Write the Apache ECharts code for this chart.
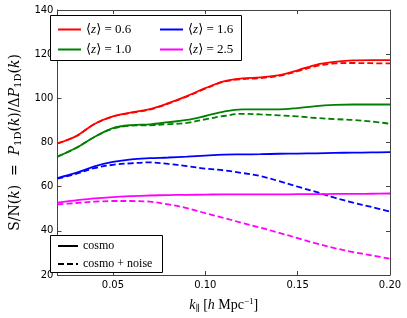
<!DOCTYPE html>
<html>
<head>
<meta charset="utf-8">
<script src="https://cdn.jsdelivr.net/npm/echarts@6/dist/echarts.min.js"></script>
<style>html,body{margin:0;padding:0;background:#fff}#c{width:407px;height:318px}</style>
</head>
<body>
<div id="c"></div>
<script>
// ---- data ----
var kValues = [0.02,0.03,0.04,0.05,0.06,0.07,0.08,0.09,0.10,0.11,0.12,0.13,0.14,0.15,0.16,0.17,0.18,0.19,0.20];
var z06Cosmo = [79.6,82.8,88.4,91.8,93.6,95.1,97.8,101.0,104.6,107.7,109.0,109.5,110.5,112.7,115.2,116.5,117.2,117.3,117.3];
var z06Noise = [79.6,82.8,88.4,91.8,93.4,94.9,97.6,100.8,104.4,107.5,108.7,109.2,110.2,112.3,114.6,115.8,116.0,115.9,115.8];
var z10Cosmo = [73.6,77.5,82.5,86.5,87.9,88.2,89.2,90.2,92.0,94.0,95.0,95.0,95.0,95.6,96.5,97.0,97.2,97.2,97.2];
var z10Noise = [73.6,77.5,82.5,86.3,87.6,87.8,88.3,88.9,90.5,92.0,93.0,92.7,92.3,91.8,91.1,90.6,90.2,89.5,88.5];
var z16Cosmo = [63.9,66.2,69.2,71.2,72.4,72.9,73.2,73.6,74.1,74.5,74.6,74.7,74.9,75.0,75.1,75.3,75.4,75.5,75.6];
var z16Noise = [63.6,65.8,68.4,69.9,70.6,71.0,70.3,69.3,68.2,67.4,66.2,64.8,62.5,60.0,57.6,55.0,52.8,50.8,48.7];
var z25Cosmo = [52.8,53.8,54.7,55.3,55.7,56.0,56.2,56.3,56.4,56.5,56.5,56.5,56.5,56.6,56.6,56.7,56.7,56.8,56.9];
var z25Noise = [52.0,52.6,53.2,53.5,53.5,53.2,52.0,50.3,48.0,45.8,43.6,41.4,39.1,36.7,34.3,32.2,30.4,28.9,27.4];
var zLabels = ['0.6','1.0','1.6','2.5'];
var xTicks = [0.05,0.10,0.15,0.20];
var yMin = 20, yMax = 140, yStep = 20;
var xMin = 0.02, xMax = 0.20;

var colors = ['#ff0000','#008000','#0000ff','#ff00ff'];
var cosmoSets = [z06Cosmo,z10Cosmo,z16Cosmo,z25Cosmo];
var noiseSets = [z06Noise,z10Noise,z16Noise,z25Noise];

function pairs(ys){ return kValues.map(function(k,i){return [k,ys[i]];}); }
function zName(z){ return '\u27E8z\u27E9 = ' + z; }

var serif = '"Liberation Serif", "DejaVu Serif", serif';
var dserif = '"DejaVu Serif", serif';
var sans = '"DejaVu Sans", sans-serif';
var series = [];
for (var i=0;i<4;i++){
  series.push({type:'line', name:zName(zLabels[i]), data:pairs(cosmoSets[i]), smooth:0.35, showSymbol:false, symbol:'none',
    color:colors[i], lineStyle:{width:1.8, color:colors[i], type:'solid'}, z:3});
  series.push({type:'line', name:'noise '+zLabels[i], data:pairs(noiseSets[i]), smooth:0.35, showSymbol:false, symbol:'none',
    color:colors[i], lineStyle:{width:1.8, color:colors[i], type:[6,3]}, z:2});
}
series.push({type:'line', name:'cosmo', data:[], symbol:'none', color:'#000', lineStyle:{width:1.8,color:'#000',type:'solid'}});
series.push({type:'line', name:'cosmo + noise', data:[], symbol:'none', color:'#000', lineStyle:{width:1.8,color:'#000',type:[6,3]}});

var zRich = {r:{fontFamily:serif,fontSize:13,color:'#000'}, i:{fontFamily:serif,fontSize:13,fontStyle:'italic',color:'#000'}};
function zFmt(name){ var parts = name.split('z'); return '{r|'+parts[0]+'}{i|z}{r|'+parts[1]+'}'; }

var legendCommon = {orient:'vertical', itemWidth:23, itemHeight:10, itemGap:7, itemStyle:{opacity:0},
  textStyle:{rich:zRich, fontFamily:serif, fontSize:13, color:'#000'}, formatter:zFmt, selectedMode:false, padding:0};

var option = {
  animation:false,
  backgroundColor:'#fff',
  grid:{left:45, right:17, top:10, bottom:40},
  xAxis:[{
    type:'value', min:xMin, max:xMax, position:'bottom',
    name:'{i|k}{sub|\u2225}{r| [}{i|h}{r| Mpc}{sup|\u22121}{r|]}', nameLocation:'middle', nameGap:22,
    nameTextStyle:{rich:{
      r:{fontFamily:serif,fontSize:14,color:'#000'},
      i:{fontFamily:serif,fontSize:14,fontStyle:'italic',color:'#000'},
      sub:{fontFamily:serif,fontSize:9,color:'#000',padding:[7,0,0,0]},
      sup:{fontFamily:serif,fontSize:9,color:'#000',padding:[0,0,7,0]}
    }},
    axisLine:{show:true, lineStyle:{color:'#444', width:1}},
    axisTick:{show:true, inside:true, length:4, customValues:xTicks, lineStyle:{color:'#444'}},
    axisLabel:{customValues:xTicks, formatter:function(v){return v.toFixed(2);}, fontFamily:sans, fontSize:10, color:'#000', margin:5},
    splitLine:{show:false}
  },{
    type:'value', min:xMin, max:xMax, position:'top',
    axisLine:{show:true, lineStyle:{color:'#444', width:1}},
    axisTick:{show:true, inside:true, length:4, customValues:xTicks, lineStyle:{color:'#444'}},
    axisLabel:{show:false}, splitLine:{show:false}
  }],
  yAxis:[{
    type:'value', min:yMin, max:yMax, interval:yStep, position:'left',
    name:'{r|S/N(}{i|k}{r|)  =  }{i|P}{sub|1D}{r|(}{i|k}{r|)/\u0394}{i|P}{sub|1D}{r|(}{i|k}{r|)}',
    nameLocation:'middle', nameGap:30, nameRotate:90,
    nameTextStyle:{rich:{
      r:{fontFamily:dserif,fontSize:14,color:'#000'},
      i:{fontFamily:dserif,fontSize:14,fontStyle:'italic',color:'#000'},
      sub:{fontFamily:dserif,fontSize:10,color:'#000',padding:[7,0,0,0]}
    }},
    axisLine:{show:true, lineStyle:{color:'#444', width:1}},
    axisTick:{show:true, inside:true, length:4, lineStyle:{color:'#444'}},
    axisLabel:{fontFamily:sans, fontSize:10, color:'#000', margin:4},
    splitLine:{show:false}
  },{
    type:'value', min:yMin, max:yMax, interval:yStep, position:'right',
    axisLine:{show:true, lineStyle:{color:'#444', width:1}},
    axisTick:{show:true, inside:true, length:4, lineStyle:{color:'#444'}},
    axisLabel:{show:false}, splitLine:{show:false}
  }],
  legend:[
    Object.assign({}, legendCommon, {left:57, top:23, data:[zName('0.6'), zName('1.0')]}),
    Object.assign({}, legendCommon, {left:159, top:23, data:[zName('1.6'), zName('2.5')]}),
    {orient:'vertical', left:57, top:240, itemWidth:20, itemHeight:10, itemGap:6, padding:0, itemStyle:{opacity:0},
     selectedMode:false, data:['cosmo','cosmo + noise'],
     textStyle:{fontFamily:serif, fontSize:12, color:'#000'}}
  ],
  graphic:[
    {type:'rect', shape:{x:50.5, y:15.5, width:191, height:45}, style:{fill:'#fff', stroke:'#000', lineWidth:1}, z:1, silent:true},
    {type:'rect', shape:{x:50.5, y:235.5, width:112, height:37}, style:{fill:'#fff', stroke:'#000', lineWidth:1}, z:1, silent:true}
  ],
  series:series
};
var chart = echarts.init(document.getElementById('c'), null, {renderer:'canvas'});
chart.setOption(option);
</script>
</body>
</html>
